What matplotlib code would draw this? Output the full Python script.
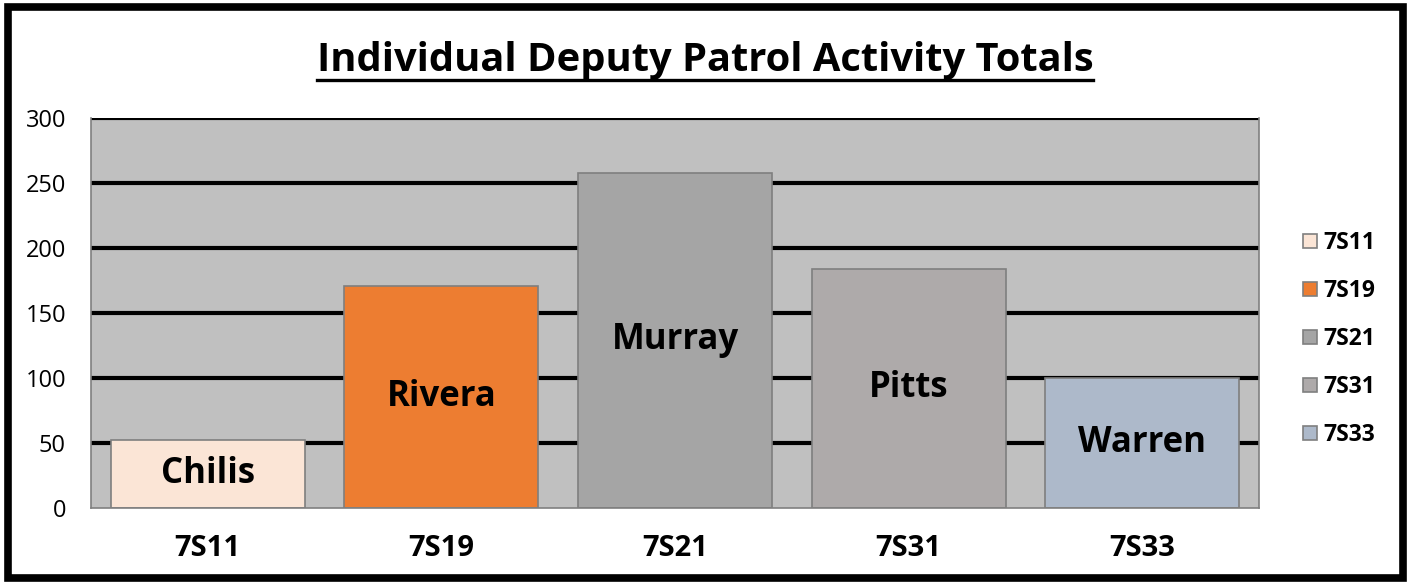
import matplotlib.pyplot as plt
from matplotlib.patches import Rectangle
from matplotlib.lines import Line2D

plt.rcParams['font.family'] = ['Open Sans', 'DejaVu Sans']

# data
units = ['7S11', '7S19', '7S21', '7S31', '7S33']
deputies = ['Chilis', 'Rivera', 'Murray', 'Pitts', 'Warren']
totals = [52, 171, 258, 184, 100]
colors = ['#FBE5D6', '#ED7D31', '#A5A5A5', '#AEAAAA', '#ADB9CA']
yticks = [0, 50, 100, 150, 200, 250, 300]

fig = plt.figure(figsize=(14.1, 5.85), dpi=100)
ax = fig.add_axes([91 / 1410, 77 / 585, 1168 / 1410, 390 / 585])
ax.set_facecolor('#C0C0C0')

# thick black gridlines behind bars
for y in yticks[1:]:
    ax.axhline(y, color='black', linewidth=3, zorder=1)

x = range(len(units))
bars = ax.bar(x, totals, width=0.83, color=colors, edgecolor='#7F7F7F',
              linewidth=1.2, zorder=2, label=units)

# deputy names centered inside bars
for xi, val, name in zip(x, totals, deputies):
    ax.text(xi, val / 2, name, ha='center', va='center',
            fontsize=25, fontweight='bold', color='black', zorder=3)

ax.set_xlim(-0.5, len(units) - 0.5)
ax.set_ylim(0, 300)
ax.set_yticks(yticks)
ax.set_xticks(list(x))
ax.set_xticklabels(units, fontsize=21, fontweight='bold')
ax.tick_params(axis='x', length=0, pad=19)
ax.tick_params(axis='y', length=0, pad=18, labelsize=17)

for side in ['left', 'bottom', 'right']:
    ax.spines[side].set_color('#808080')
    ax.spines[side].set_linewidth(1.2)
ax.spines['top'].set_visible(False)

# legend on the right
handles = [Rectangle((0, 0), 1, 1, facecolor=c, edgecolor='#7F7F7F', linewidth=1.2)
           for c in colors]
leg = fig.legend(handles, units, loc='center left', bbox_to_anchor=(1292 / 1410, 1 - 339 / 585),
                 frameon=False, prop={'size': 16.5, 'weight': 'bold'},
                 handlelength=0.6, handleheight=0.6, handletextpad=0.25,
                 labelspacing=1.05, borderpad=0)

# title with underline
title = fig.text(0.5, 1 - 61 / 585, 'Individual Deputy Patrol Activity Totals',
                 ha='center', va='center', fontsize=28.7, fontweight='bold')
fig.canvas.draw()
bb = title.get_window_extent().transformed(fig.transFigure.inverted())
fig.add_artist(Line2D([bb.x0, bb.x1], [1 - 80 / 585] * 2, color='black', linewidth=2.4,
                      transform=fig.transFigure))

# outer black frame
fig.add_artist(Rectangle((7.5 / 1410, 7 / 585), 1 - 15 / 1410, 1 - 14 / 585,
                         transform=fig.transFigure, fill=False,
                         edgecolor='black', linewidth=5.5))

fig.savefig('out.png', dpi=100)
